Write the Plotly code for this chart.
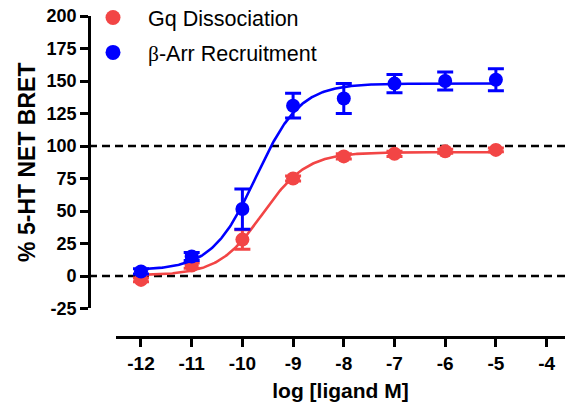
import numpy as np
import plotly.graph_objects as go

# ---- data ----
log_dose = [-12, -11, -10, -9, -8, -7, -6, -5]
gq_mean = [-3, 8, 28, 75, 92, 94, 96, 97]
gq_sem = [1.5, 2, 7.5, 2, 2, 2, 1.5, 1.5]
barr_mean = [3.5, 15, 51.5, 131, 136.5, 148, 150, 151]
barr_sem = [2, 3, 15.5, 9.5, 11.5, 7, 7, 8.5]
series_names = ["Gq Dissociation", "<span style=\"font-family:'Liberation Serif'\">β</span>-Arr Recruitment"]
ref_lines = [0, 100]
x_ticks = [-12, -11, -10, -9, -8, -7, -6, -5, -4]
y_ticks = [-25, 0, 25, 50, 75, 100, 125, 150, 175, 200]
HILL_SLOPE = 1.0

RED = "#F24545"
BLUE = "#0000FF"
FONT = "Arial, 'Liberation Sans', sans-serif"


def fit_curve(x, y, hill=HILL_SLOPE):
    """Least-squares fit of log(agonist) vs response (standard slope)."""
    x = np.asarray(x, float)
    y = np.asarray(y, float)
    best = None
    for logec in np.arange(-13.0, -4.0, 0.002):
        f = 1.0 / (1.0 + 10 ** ((logec - x) * hill))
        A = np.column_stack([1 - f, f])
        coef, *_ = np.linalg.lstsq(A, y, rcond=None)
        sse = float(np.sum((A @ coef - y) ** 2))
        if best is None or sse < best[0]:
            best = (sse, coef[0], coef[1], logec)
    _, bottom, top, logec = best
    xs = np.linspace(min(x), max(x), 300)
    ys = bottom + (top - bottom) / (1.0 + 10 ** ((logec - xs) * hill))
    return xs, ys


fig = go.Figure()

for i, (mean, sem, color, name) in enumerate([
    (gq_mean, gq_sem, RED, series_names[0]),
    (barr_mean, barr_sem, BLUE, series_names[1]),
]):
    cx, cy = fit_curve(log_dose, mean)
    fig.add_trace(go.Scatter(x=cx, y=cy, mode="lines", line=dict(color=color, width=2.6),
                             showlegend=False, hoverinfo="skip"))
    fig.add_trace(go.Scatter(x=log_dose, y=mean, mode="markers",
                             marker=dict(color=color, size=14),
                             error_y=dict(type="data", array=sem, color=color, thickness=3, width=8),
                             showlegend=False, cliponaxis=False))
    fig.add_trace(go.Scatter(x=[None], y=[None], mode="markers", name=name,
                             legendgroup=f"g{i}",
                             marker=dict(color=color, size=15), showlegend=True))

for yv in ref_lines:
    fig.add_shape(type="line", xref="paper", yref="y", x0=0, x1=1, y0=yv, y1=yv,
                  line=dict(color="black", width=2.6, dash="8px,5px"), layer="below")

fig.update_layout(
    width=565, height=408,
    margin=dict(l=89, r=0, t=16, b=71, autoexpand=False),
    paper_bgcolor="white", plot_bgcolor="white",
    font=dict(family=FONT, color="black"),
    showlegend=True,
    legend=dict(x=-0.0231, y=1.0593, xanchor="left", yanchor="top", bgcolor="rgba(0,0,0,0)",
                font=dict(family=FONT, size=21.5, color="black"), tracegroupgap=4,
                itemsizing="trace", itemwidth=60),
    xaxis=dict(
        domain=[0.0567, 1], range=[-12.493, -3.637], anchor="free", position=0,
        tickmode="array", tickvals=x_ticks, ticktext=[str(v) for v in x_ticks],
        showgrid=False, zeroline=False, showline=True, linecolor="black", linewidth=2.6,
        ticks="outside", ticklen=8, tickwidth=2.6, tickcolor="black",
        tickfont=dict(family=FONT, size=19, weight="bold"),
        title=dict(text="log [ligand M]", font=dict(family=FONT, size=21, weight="bold"), standoff=10),
    ),
    yaxis=dict(
        domain=[0.0888, 1], range=[-25, 200], anchor="free", position=0,
        tickmode="array", tickvals=y_ticks, ticktext=[str(v) for v in y_ticks],
        showgrid=False, zeroline=False, showline=True, linecolor="black", linewidth=2.6,
        ticks="outside", ticklen=8, tickwidth=2.6, tickcolor="black",
        tickfont=dict(family=FONT, size=18, weight="bold"),
        title=dict(text="% 5-HT NET BRET", font=dict(family=FONT, size=23, weight="bold"), standoff=3),
    ),
)

fig.write_html("out.html", config={"displayModeBar": False},
               post_script="document.body.style.margin='0px';document.body.style.overflow='hidden';")
